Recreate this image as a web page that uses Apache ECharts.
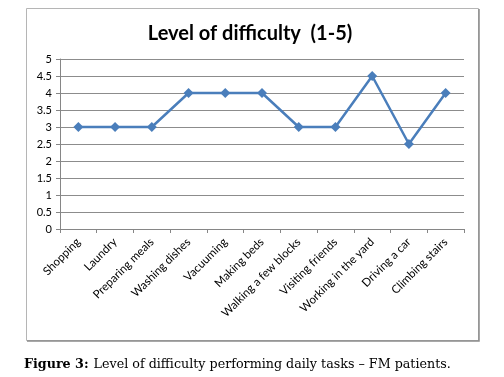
<!DOCTYPE html>
<html>
<head>
<meta charset="utf-8">
<script src="https://cdn.jsdelivr.net/npm/echarts@6/dist/echarts.min.js"></script>
<style>
  html, body { margin: 0; padding: 0; background: #fff; }
  #chart { width: 504px; height: 377px; }
</style>
</head>
<body>
<div id="chart"></div>
<script>
const tasks = [
  "Shopping", "Laundry", "Preparing meals", "Washing dishes", "Vacuuming",
  "Making beds", "Walking a few blocks", "Visiting friends",
  "Working in the yard", "Driving a car", "Climbing stairs",
];
const difficulty = [3, 3, 3, 4, 4, 4, 3, 3, 4.5, 2.5, 4];

const chart = echarts.init(document.getElementById("chart"), null, { renderer: "canvas" });

chart.setOption({
  backgroundColor: "#fff",
  animation: false,
  graphic: [
    {
      type: "rect",
      shape: { x: 26.5, y: 8.5, width: 452, height: 332 },
      style: { fill: "none", stroke: "#b5b5b5", lineWidth: 1 },
      z: 0,
    },
    {
      type: "polyline",
      shape: { points: [[27, 341], [479, 341], [479, 9]] },
      style: { fill: "none", stroke: "#8c8c8c", lineWidth: 1.5 },
      z: 0,
    },
  ],
  title: [
    {
      text: "Level of difficulty  (1-5)",
      left: 245,
      top: 19,
      textAlign: "center",
      textStyle: { fontFamily: "Lato", fontSize: 20, fontWeight: "bold", color: "#000" },
    },
    {
      text: "{b|Figure 3:} {n|Level of difficulty performing daily tasks – FM patients.}",
      left: 19,
      top: 351,
      textStyle: {
        fontWeight: "normal",
        rich: {
          b: { fontFamily: "DejaVu Serif", fontSize: 12.7, fontWeight: "bold", color: "#000" },
          n: { fontFamily: "DejaVu Serif", fontSize: 12.7, fontWeight: "normal", color: "#000" },
        },
      },
    },
  ],
  grid: { left: 60, right: 40, top: 59, bottom: 148 },
  xAxis: {
    type: "category",
    data: tasks,
    boundaryGap: true,
    axisLine: { lineStyle: { color: "#868686", width: 1 } },
    axisTick: { show: true, length: 4, lineStyle: { color: "#868686" } },
    axisLabel: {
      rotate: 45,
      interval: 0,
      fontFamily: "Lato",
      fontSize: 11.5,
      color: "#000",
      margin: 11,
    },
  },
  yAxis: {
    type: "value",
    min: 0,
    max: 5,
    interval: 0.5,
    axisLine: { show: true, lineStyle: { color: "#868686" } },
    axisTick: { show: true, length: 4, inside: false, lineStyle: { color: "#868686" } },
    axisLabel: { fontFamily: "Lato", fontSize: 11, color: "#000", margin: 8 },
    splitLine: { lineStyle: { color: "#8c8c8c", width: 1 } },
  },
  series: [
    {
      type: "line",
      data: difficulty,
      symbol: "diamond",
      symbolSize: 10,
      lineStyle: { color: "#4a7ebb", width: 2.5 },
      itemStyle: { color: "#4a7ebb" },
    },
  ],
});
</script>
</body>
</html>
